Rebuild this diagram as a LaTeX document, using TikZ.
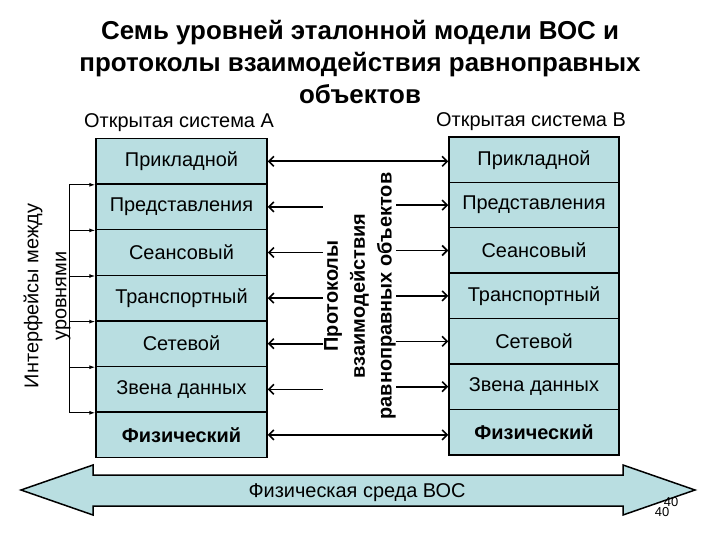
\documentclass[tikz,border=0pt]{standalone}
\usepackage{fontspec}
\setmainfont{Liberation Sans}
\usetikzlibrary{arrows.meta,positioning}
\definecolor{layerblue}{RGB}{185,222,225}

\begin{document}
\begin{tikzpicture}[x=1bp,y=-1bp,
    layer/.style={draw,line width=1.5bp,fill=layerblue,minimum width=171bp,
      minimum height=45.5bp,inner sep=0pt,font=\fontsize{20}{22}\selectfont},
    peer/.style={line width=1.6bp,{Straight Barb[length=5bp,width=10bp]}-{Straight Barb[length=5bp,width=10bp]}},
    half/.style={line width=1.6bp,-{Straight Barb[length=5bp,width=10bp]}},
    iface/.style={line width=1bp,-{Latex[length=6bp,width=4bp]}},
    side/.style={rotate=90,align=center,font=\fontsize{20}{27}\selectfont}]
  \useasboundingbox (0,0) rectangle (720,540);
  % title
  \node[align=center,font=\fontsize{26}{32.5}\selectfont\bfseries] (title) at (360,62)
    {Семь уровней эталонной модели ВОС и\\протоколы взаимодействия равноправных\\объектов};
  \node[font=\fontsize{20}{22}\selectfont] (sysA) at (179,123) {Открытая система А};
  \node[font=\fontsize{20}{22}\selectfont] (sysB) at (531,122) {Открытая система В};
  % layers of both systems
  \foreach \name [count=\i] in {Прикладной,Представления,Сеансовый,Транспортный,Сетевой,Звена данных,{\bfseries Физический}}{
    \node[layer] (a\i) at (181.5,{115.7+45.6*\i}) {\name};
    \node[layer,minimum width=170bp] (b\i) at (534,{114.3+45.4*\i}) {\name};
  }
  % peer protocols
  \draw[peer] (a1.east) -- (a1.east -| b1.west);
  \draw[peer] (a7.east) -- (a7.east -| b7.west);
  \foreach \i in {2,...,6}{
    \draw[half] ([xshift=55bp]a\i.east) -- (a\i.east);
    \draw[half] ([xshift=-52bp]b\i.west) -- (b\i.west);
  }
  \node[side,font=\fontsize{20}{27}\selectfont\bfseries] (proto) at (360,296) {Протоколы\\взаимодействия\\равноправных объектов};
  % interfaces between layers
  \draw[line width=1bp] ([xshift=-26bp]a1.south west) -- ([xshift=-26bp]a6.south west);
  \foreach \i in {1,...,6}
    \draw[iface] ([xshift=-26bp]a\i.south west) -- (a\i.south west);
  \node[side,font=\fontsize{20}{28}\selectfont] (ifaces) at (47,296) {Интерфейсы между\\уровнями};
  % physical medium
  \draw[line width=1.5bp,fill=layerblue] (21,490) -- (93,465) -- (93,475) -- (623,475) -- (623,465)
    -- (695,490) -- (623,515) -- (623,506) -- (93,506) -- (93,515) -- cycle;
  \node[font=\fontsize{20}{22}\selectfont] (medium) at (357,493) {Физическая среда ВОС};
  \node[font=\fontsize{13}{14}\selectfont] (pgA) at (671,502) {40};
  \node[font=\fontsize{13}{14}\selectfont] (pgB) at (662,512) {40};
\end{tikzpicture}
\end{document}
